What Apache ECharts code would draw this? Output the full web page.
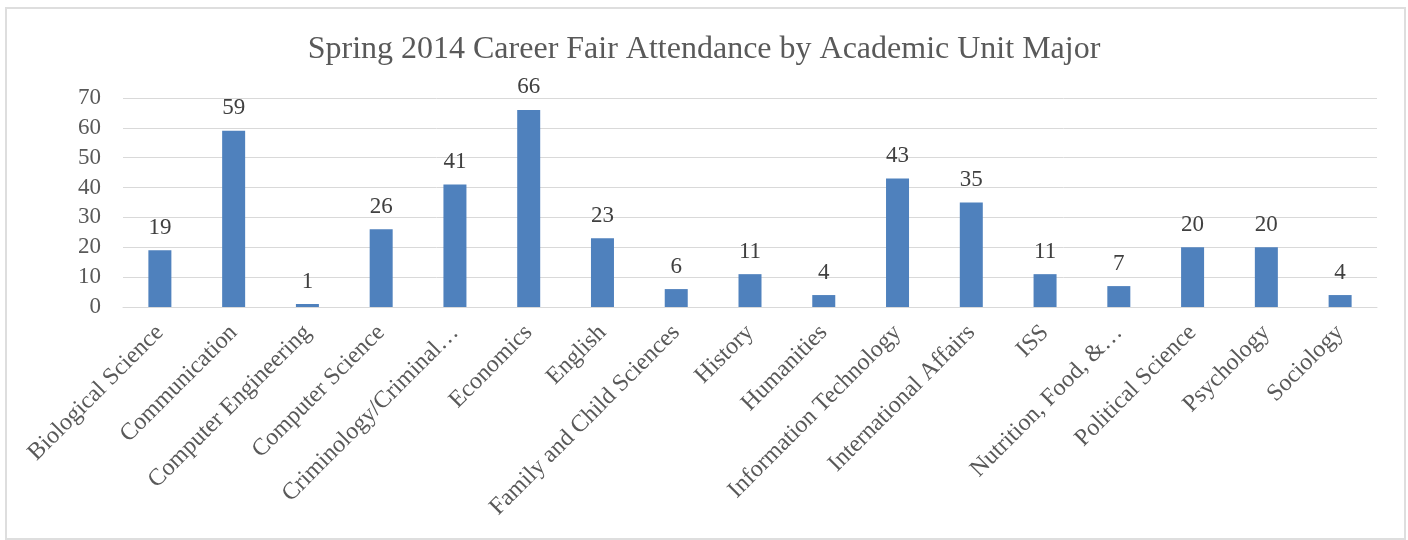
<!DOCTYPE html>
<html>
<head>
<meta charset="utf-8">
<script src="https://cdn.jsdelivr.net/npm/echarts@6/dist/echarts.min.js"></script>
<style>
html,body{margin:0;padding:0;background:#fff;}
#wrap{position:absolute;left:5px;top:7px;width:1401px;height:533px;border:2px solid #dedede;box-sizing:border-box;}
#chart{position:absolute;left:0;top:0;width:1408px;height:540px;}
</style>
</head>
<body>
<div id="wrap"></div>
<div id="chart"></div>
<script>
const categories = ["Biological Science","Communication","Computer Engineering","Computer Science","Criminology/Criminal…","Economics","English","Family and Child Sciences","History","Humanities","Information Technology","International Affairs","ISS","Nutrition, Food, &…","Political Science","Psychology","Sociology"];
const attendance = [19,59,1,26,41,66,23,6,11,4,43,35,11,7,20,20,4];
const yTicks = [0,10,20,30,40,50,60,70];
const titleText = "Spring 2014 Career Fair Attendance by Academic Unit Major";

const serif = '"Liberation Serif","Times New Roman",serif';
const chart = echarts.init(document.getElementById('chart'));
chart.setOption({
  animation:false,
  title:{text:titleText,left:'center',top:29,textStyle:{fontFamily:serif,fontSize:32,fontWeight:'normal',color:'#595959'}},
  grid:{left:123,right:31,top:98,bottom:233,containLabel:false},
  xAxis:{type:'category',data:categories,
    axisLine:{show:true,lineStyle:{color:'#d9d9d9',width:1}},
    axisTick:{show:false},
    axisLabel:{rotate:45,interval:0,fontFamily:serif,fontSize:24,color:'#595959',margin:22}},
  yAxis:{type:'value',min:yTicks[0],max:yTicks[yTicks.length-1],interval:10,
    axisLine:{show:false},axisTick:{show:false},
    splitLine:{lineStyle:{color:'#d9d9d9',width:1}},
    axisLabel:{fontFamily:serif,fontSize:23,color:'#595959',margin:22}},
  series:[{type:'bar',data:attendance,barWidth:23,
    itemStyle:{color:'#4f81bd'},
    label:{show:true,position:'top',distance:11,fontFamily:serif,fontSize:23,color:'#404040'}}]
});
</script>
</body>
</html>
